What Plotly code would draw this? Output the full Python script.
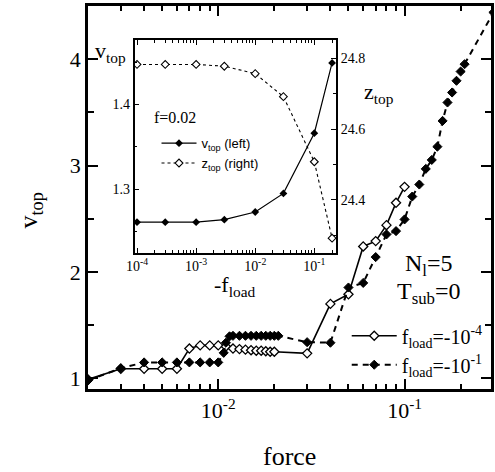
import numpy as np
import plotly.graph_objects as go

# ---- main panel: v_top versus force, N_l = 5, T_sub = 0 ----
force_a = [0.002, 0.003, 0.004, 0.005, 0.006, 0.007, 0.008, 0.009, 0.010,
           0.011, 0.012, 0.013, 0.014, 0.015, 0.016, 0.017, 0.018, 0.019,
           0.020, 0.030, 0.040, 0.050, 0.060, 0.070, 0.080, 0.090, 0.100]
vtop_a = [0.99, 1.09, 1.09, 1.09, 1.09, 1.28, 1.31, 1.31, 1.31,
          1.30, 1.28, 1.275, 1.27, 1.265, 1.26, 1.26, 1.255, 1.25,
          1.25, 1.235, 1.70, 1.79, 2.24, 2.29, 2.44, 2.65, 2.80]

force_b = [0.002, 0.003, 0.004, 0.005, 0.006, 0.007, 0.008, 0.009, 0.010,
           0.0107, 0.011, 0.0115, 0.012, 0.013, 0.014, 0.015, 0.016, 0.017,
           0.018, 0.019, 0.020, 0.021, 0.030, 0.040, 0.050, 0.060, 0.070,
           0.080, 0.090, 0.100, 0.110, 0.120, 0.130, 0.140, 0.150, 0.160,
           0.170, 0.180, 0.190, 0.200, 0.210, 0.300]
vtop_b = [0.98, 1.095, 1.15, 1.15, 1.15, 1.15, 1.15, 1.15, 1.15,
          1.24, 1.335, 1.395, 1.40, 1.40, 1.40, 1.40, 1.40, 1.40,
          1.40, 1.40, 1.40, 1.40, 1.34, 1.335, 1.854, 1.897, 2.14,
          2.353, 2.384, 2.494, 2.709, 2.822, 2.969, 3.053, 3.178, 3.42,
          3.593, 3.687, 3.797, 3.884, 3.953, 4.44]

label_a = "f<sub>load</sub>=-10<sup>-4</sup>"
label_b = "f<sub>load</sub>=-10<sup>-1</sup>"

main_xticks = [0.01, 0.1]
main_xticktext = ["10<sup>-2</sup>", "10<sup>-1</sup>"]
main_yticks = [1, 2, 3, 4]

# ---- inset: v_top and z_top versus -f_load at f = 0.02 ----
fload = [1e-4, 3e-4, 1e-3, 3e-3, 1e-2, 3e-2, 1e-1, 2e-1]
vtop_in = [1.261, 1.261, 1.261, 1.264, 1.273, 1.295, 1.366, 1.449]
ztop_in = [24.783, 24.783, 24.783, 24.778, 24.757, 24.692, 24.508, 24.292]

inset_xticks = [1e-4, 1e-3, 1e-2, 1e-1]
inset_xticktext = ["10<sup>-4</sup>", "10<sup>-3</sup>", "10<sup>-2</sup>", "10<sup>-1</sup>"]

SERIF = "Liberation Serif"
SANS = "Liberation Sans"


def log_minor(decades, stop):
    vals = []
    for d in decades:
        for m in range(2, 10):
            v = m * 10.0 ** d
            if v <= stop:
                vals.append(v)
    return vals


fig = go.Figure()

fig.add_trace(go.Scatter(
    x=force_a, y=vtop_a, mode="lines+markers", name=label_a,
    line=dict(color="black", width=1.6),
    marker=dict(symbol="diamond", size=7, color="white",
                line=dict(color="black", width=1.3)),
    legend="legend"))
fig.add_trace(go.Scatter(
    x=force_b, y=vtop_b, mode="lines+markers", name=label_b,
    line=dict(color="black", width=2, dash="6px,5px"),
    marker=dict(symbol="diamond", size=7, color="black",
                line=dict(color="black", width=1)),
    legend="legend"))

fig.add_trace(go.Scatter(
    x=fload, y=vtop_in, mode="lines+markers", name="v<sub>top</sub> (left)",
    xaxis="x2", yaxis="y2",
    line=dict(color="black", width=1.2),
    marker=dict(symbol="diamond", size=6, color="black"),
    legend="legend2"))
fig.add_trace(go.Scatter(
    x=fload, y=ztop_in, mode="lines+markers", name="z<sub>top</sub> (right)",
    xaxis="x2", yaxis="y3",
    line=dict(color="black", width=1.1, dash="3px,3px"),
    marker=dict(symbol="diamond", size=6, color="white",
                line=dict(color="black", width=1.1)),
    legend="legend2"))

axis_common = dict(showline=True, linecolor="black", ticks="inside",
                   tickcolor="black", showgrid=False, zeroline=False)

fig.update_layout(
    width=495, height=472,
    margin=dict(l=88, r=1, t=6, b=83),
    paper_bgcolor="white", plot_bgcolor="white",
    font=dict(family=SERIF, color="black"),
    xaxis=dict(type="log", range=[np.log10(0.002), -0.536],
               domain=[0, 1], linewidth=2.5, mirror="ticks",
               tickvals=main_xticks, ticktext=main_xticktext,
               ticklen=10, tickwidth=2,
               tickfont=dict(family=SERIF, size=22),
               minor=dict(tickvals=log_minor([-3, -2, -1], 0.3),
                          ticks="inside", ticklen=5, tickwidth=2,
                          tickcolor="black"),
               **axis_common),
    yaxis=dict(range=[0.9, 4.5], domain=[0, 1], linewidth=2.5,
               mirror="ticks", tickvals=main_yticks,
               ticklen=10, tickwidth=2,
               tickfont=dict(family=SERIF, size=22),
               minor=dict(tickvals=[1.5, 2.5, 3.5], ticks="inside",
                          ticklen=6, tickwidth=2, tickcolor="black"),
               **axis_common),
    xaxis2=dict(type="log", range=[-4.04, -0.63], domain=[0.1158, 0.6158],
                anchor="y2", linewidth=1.5, mirror="ticks",
                tickvals=inset_xticks, ticktext=inset_xticktext,
                ticklen=5, tickwidth=1.2,
                tickfont=dict(family=SERIF, size=14),
                minor=dict(tickvals=log_minor([-4, -3, -2, -1], 0.23),
                           ticks="inside", ticklen=3, tickwidth=1,
                           tickcolor="black"),
                **axis_common),
    yaxis2=dict(range=[1.225, 1.476], domain=[0.3559, 0.9112],
                anchor="x2", linewidth=1.5, tickvals=[1.3, 1.4],
                ticklen=5, tickwidth=1.2,
                tickfont=dict(family=SERIF, size=14),
                minor=dict(tickvals=[1.25, 1.35, 1.45], ticks="inside",
                           ticklen=3, tickwidth=1, tickcolor="black"),
                **axis_common),
    yaxis3=dict(range=[24.251, 24.852], overlaying="y2", side="right",
                anchor="x2", linewidth=1.5, tickvals=[24.4, 24.6, 24.8],
                ticklen=5, tickwidth=1.2,
                tickfont=dict(family=SERIF, size=14),
                minor=dict(tickvals=[24.3, 24.5, 24.7], ticks="inside",
                           ticklen=3, tickwidth=1, tickcolor="black"),
                **axis_common),
    legend=dict(x=0.642, y=0.19, xanchor="left", yanchor="top",
                bgcolor="rgba(0,0,0,0)", itemwidth=45,
                font=dict(family=SERIF, size=20), tracegroupgap=0),
    legend2=dict(x=0.17, y=0.681, xanchor="left", yanchor="top",
                 bgcolor="rgba(0,0,0,0)", itemwidth=35,
                 font=dict(family=SANS, size=13), tracegroupgap=0),
    showlegend=True,
)

notes = [
    dict(text="force", x=0.5, y=-0.175, size=26),
    dict(text="v<sub>top</sub>", x=-0.143, y=0.467, size=26, angle=-90),
    dict(text="N<sub>l</sub>=5", x=0.847, y=0.324, size=24),
    dict(text="T<sub>sub</sub>=0", x=0.847, y=0.251, size=24),
    dict(text="v<sub>top</sub>", x=0.0567, y=0.88, size=22),
    dict(text="z<sub>top</sub>", x=0.722, y=0.773, size=22),
    dict(text="-f<sub>load</sub>", x=0.364, y=0.269, size=22),
]
for n in notes:
    fig.add_annotation(text=n["text"], x=n["x"], y=n["y"], xref="paper",
                       yref="paper", xanchor="center", yanchor="middle",
                       showarrow=False, textangle=n.get("angle", 0),
                       font=dict(family=SERIF, size=n["size"], color="black"))
fig.add_annotation(text="f=0.02", x=0.16, y=0.71, xref="paper", yref="paper",
                   xanchor="left", yanchor="middle", showarrow=False,
                   font=dict(family=SERIF, size=16, color="black"))

fig.write_html("out.html")
